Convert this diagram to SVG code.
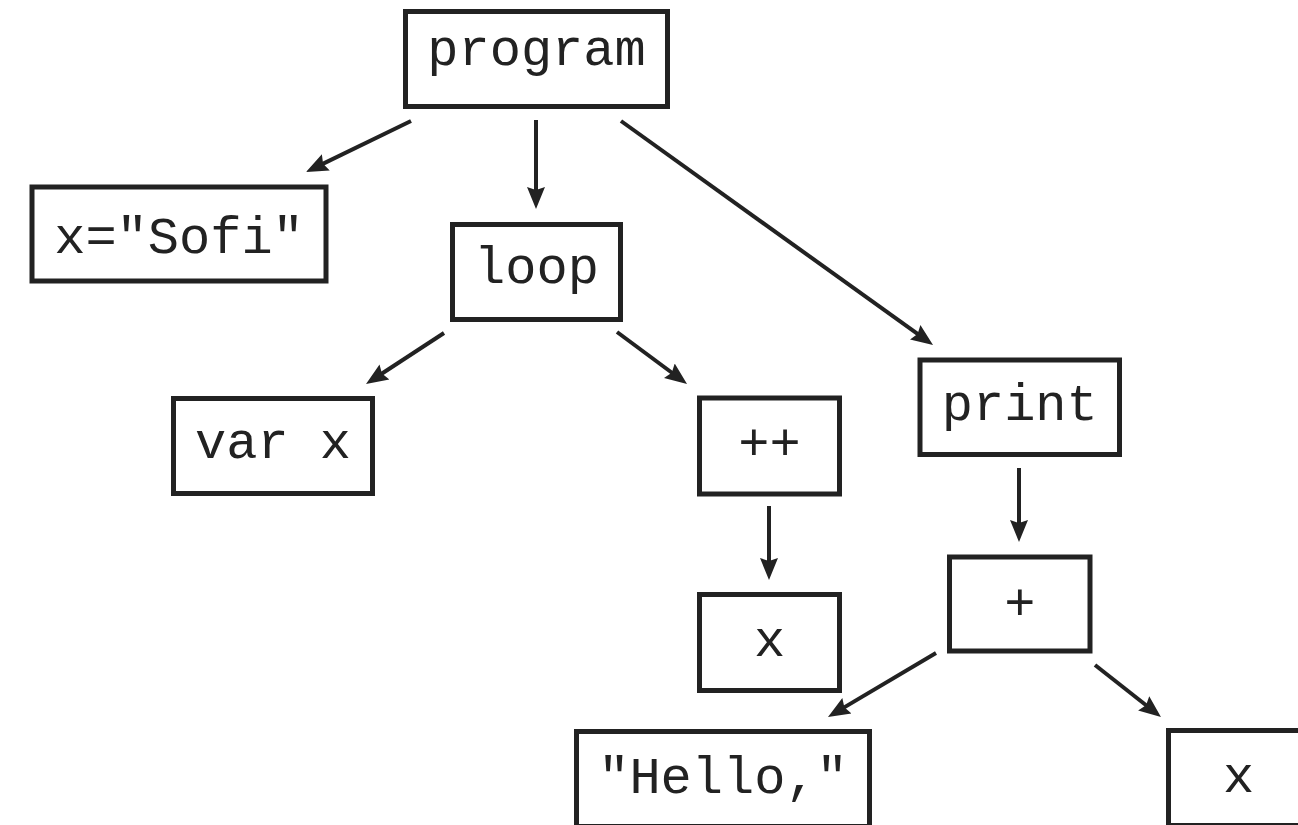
<svg xmlns="http://www.w3.org/2000/svg" width="1298" height="825" viewBox="0 0 1298 825">
  <style>
    .box { fill: #ffffff; stroke: #222222; stroke-width: 5; }
    .lbl { font-family: "Liberation Mono", "DejaVu Sans Mono", monospace; font-size: 52px; fill: #222222; text-anchor: middle; }
    .edge { stroke: #222222; stroke-width: 4; fill: none; marker-end: url(#head); }
  </style>
  <defs>
    <!-- arrowhead; the line stops 10px short of the tip -->
    <marker id="head" markerUnits="userSpaceOnUse" markerWidth="23" markerHeight="20" viewBox="0 -10 23 20" refX="12" refY="0" orient="auto">
      <path d="M0,-9 L22,0 L0,9 L3,0 Z" fill="#222222"/>
    </marker>
  </defs>
  <rect width="1298" height="825" fill="#ffffff"/>

  <g id="connectors">
    <line class="edge" x1="411" y1="121" x2="315" y2="167.6"/>
    <line class="edge" x1="536" y1="120" x2="536" y2="199"/>
    <line class="edge" x1="621" y1="121" x2="924.9" y2="339.2"/>
    <line class="edge" x1="444" y1="333" x2="374.4" y2="378.5"/>
    <line class="edge" x1="617" y1="332" x2="679" y2="378"/>
    <line class="edge" x1="769" y1="506" x2="769" y2="570"/>
    <line class="edge" x1="1019" y1="468" x2="1019" y2="532"/>
    <line class="edge" x1="936" y1="653" x2="836.6" y2="711.9"/>
    <line class="edge" x1="1095" y1="665" x2="1153.1" y2="710.8"/>
  </g>

  <g id="node-program">
    <rect class="box" x="405.5" y="11.5" width="262" height="95"/>
    <text class="lbl" x="536.5" y="65">program</text>
  </g>
  <g id="node-assign">
    <rect class="box" x="32" y="187" width="294" height="94"/>
    <text class="lbl" x="179" y="253">x="Sofi"</text>
  </g>
  <g id="node-loop">
    <rect class="box" x="452.5" y="224.5" width="168" height="95"/>
    <text class="lbl" x="536.5" y="283">loop</text>
  </g>
  <g id="node-var">
    <rect class="box" x="173.5" y="398.5" width="199" height="95"/>
    <text class="lbl" x="273" y="458">var x</text>
  </g>
  <g id="node-incr">
    <rect class="box" x="699.5" y="398" width="140" height="96"/>
    <text class="lbl" x="769.5" y="460">++</text>
  </g>
  <g id="node-incr-x">
    <rect class="box" x="699.5" y="594.5" width="140" height="96"/>
    <text class="lbl" x="769.5" y="656">x</text>
  </g>
  <g id="node-print">
    <rect class="box" x="920" y="360" width="199.5" height="94.5"/>
    <text class="lbl" x="1019.75" y="420">print</text>
  </g>
  <g id="node-plus">
    <rect class="box" x="949.5" y="557" width="140.5" height="94"/>
    <text class="lbl" x="1019.75" y="620">+</text>
  </g>
  <g id="node-hello">
    <rect class="box" x="576.5" y="731.5" width="293" height="95"/>
    <text class="lbl" x="723" y="793">"Hello,"</text>
  </g>
  <g id="node-plus-x">
    <rect class="box" x="1168.5" y="730.5" width="140" height="95"/>
    <text class="lbl" x="1238.5" y="792">x</text>
  </g>
</svg>
